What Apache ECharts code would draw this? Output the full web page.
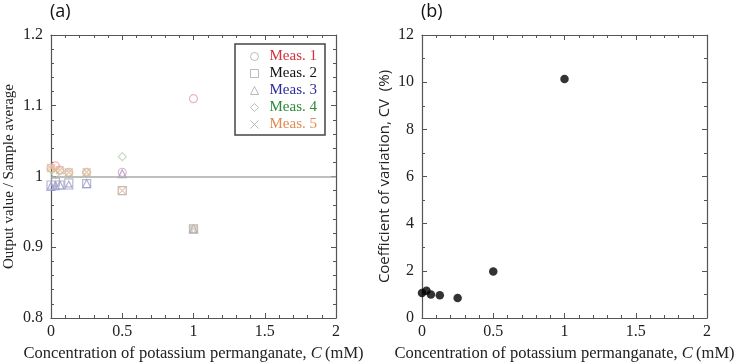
<!DOCTYPE html>
<html>
<head>
<meta charset="utf-8">
<script src="https://cdn.jsdelivr.net/npm/echarts@6/dist/echarts.min.js"></script>
<style>
  html, body { margin: 0; padding: 0; background: #fff; }
  #main { width: 735px; height: 362px; }
</style>
</head>
<body>
<div id="main"></div>
<script>
// concentrations (mM)
const conc = [0, 0.03125, 0.0625, 0.125, 0.25, 0.5, 1];

// output value / sample average, per measurement
const meas1 = [1.012, 1.015, 1.009, 1.006, 1.006, 1.006, 1.110];
const meas2 = [0.988, 0.992, 0.988, 0.991, 0.990, 0.980, 0.926];
const meas3 = [0.986, 0.987, 0.988, 0.988, 0.990, 1.004, 0.926];
const meas4 = [1.010, 1.003, 1.008, 1.005, 1.006, 1.028, 0.926];
const meas5 = [1.012, 1.010, 1.009, 1.006, 1.006, 0.980, 0.926];

// coefficient of variation (%)
const cv = [1.06, 1.16, 1.0, 0.96, 0.85, 1.97, 10.13];

const measNames = ['Meas. 1', 'Meas. 2', 'Meas. 3', 'Meas. 4', 'Meas. 5'];
const measData = [meas1, meas2, meas3, meas4, meas5];
const markerColors = ['#e6a4aa', '#a8a8b4', '#9a9ad8', '#b6cfb6', '#eeb888'];
const textColors = ['#d8303c', '#111111', '#2c2ca0', '#2a8a3a', '#e08a50'];
const symbols = ['circle', 'rect', 'triangle', 'diamond', 'path://M0,0L10,10M10,0L0,10'];

const serif = '"Liberation Serif", "DejaVu Serif", serif';
const sans = '"Open Sans", "Liberation Sans", sans-serif';
const axisColor = '#555';

const chart = echarts.init(document.getElementById('main'));

function xAxisFor(gridIndex) {
  return [
    {
      gridIndex, type: 'value', min: 0, max: 2, interval: 0.5,
      axisLine: { show: true, onZero: false, lineStyle: { color: axisColor, width: 1.2 } },
      axisTick: { inside: true, length: 5, lineStyle: { color: axisColor } },
      minorTick: { show: true, splitNumber: 5, length: 3, lineStyle: { color: axisColor } },
      splitLine: { show: false },
      axisLabel: { color: '#222', fontFamily: serif, fontSize: 16, margin: 6 },
      name: 'Concentration of potassium permanganate, {i|C}\u2009(mM)',
      nameLocation: 'middle', nameGap: 26,
      nameTextStyle: {
        color: '#222', fontFamily: serif, fontSize: 16.5,
        rich: { i: { fontStyle: 'italic', fontFamily: serif, fontSize: 16.5, color: '#222' } }
      }
    },
    {
      gridIndex, type: 'value', min: 0, max: 2, interval: 0.5, position: 'top',
      axisLine: { show: true, onZero: false, lineStyle: { color: axisColor, width: 1.2 } },
      axisTick: { inside: true, length: 5, lineStyle: { color: axisColor } },
      minorTick: { show: true, splitNumber: 5, length: 3, lineStyle: { color: axisColor } },
      splitLine: { show: false }, axisLabel: { show: false }
    }
  ];
}

function yAxisFor(gridIndex, min, max, interval, minorSplit, name, nameFont, nameSize, nameGap) {
  return [
    {
      gridIndex, type: 'value', min, max, interval,
      axisLine: { show: true, onZero: false, lineStyle: { color: axisColor, width: 1.2 } },
      axisTick: { inside: true, length: 5, lineStyle: { color: axisColor } },
      minorTick: { show: true, splitNumber: minorSplit, length: 3, lineStyle: { color: axisColor } },
      splitLine: { show: false },
      axisLabel: { color: '#222', fontFamily: serif, fontSize: 16, margin: 8 },
      name, nameLocation: 'middle', nameGap,
      nameTextStyle: { color: '#222', fontFamily: nameFont, fontSize: nameSize }
    },
    {
      gridIndex, type: 'value', min, max, interval, position: 'right',
      axisLine: { show: true, onZero: false, lineStyle: { color: axisColor, width: 1.2 } },
      axisTick: { inside: true, length: 5, lineStyle: { color: axisColor } },
      minorTick: { show: true, splitNumber: minorSplit, length: 3, lineStyle: { color: axisColor } },
      splitLine: { show: false }, axisLabel: { show: false }
    }
  ];
}

const measSeries = measData.map((vals, i) => ({
  name: measNames[i],
  type: 'scatter',
  xAxisIndex: 0, yAxisIndex: 0,
  symbol: symbols[i],
  symbolSize: 8,
  data: conc.map((c, k) => [c, vals[k]]),
  itemStyle: { color: 'rgba(255,255,255,0)', borderColor: markerColors[i], borderWidth: 1.2 },
  z: 3,
  markLine: i === 0 ? {
    silent: true, symbol: 'none', label: { show: false },
    lineStyle: { color: '#aaa', width: 1.5, type: 'solid' },
    data: [{ yAxis: 1 }]
  } : undefined
}));

const option = {
  backgroundColor: '#fff',
  animation: false,
  grid: [
    { left: 51, top: 35, width: 285, height: 283, containLabel: false, outerBoundsMode: 'none' },
    { left: 422, top: 35, width: 285, height: 283, containLabel: false, outerBoundsMode: 'none' }
  ],
  xAxis: [...xAxisFor(0), ...xAxisFor(1)],
  yAxis: [
    ...yAxisFor(0, 0.8, 1.2, 0.1, 5, 'Output value / Sample average', serif, 15, 34),
    ...yAxisFor(1, 0, 12, 2, 2, 'Coefficient of variation, CV  (%)', sans, 15, 30)
  ],
  legend: {
    orient: 'vertical',
    left: 235, top: 44,
    width: 90,
    padding: [5, 8, 3, 15],
    itemGap: 2,
    itemWidth: 8, itemHeight: 8,
    borderColor: '#444', borderWidth: 1.5,
    backgroundColor: '#fff',
    data: measNames.map((n, i) => ({
      name: n,
      icon: symbols[i],
      itemStyle: { color: 'rgba(255,255,255,0)', borderColor: '#aaa', borderWidth: 1 },
      textStyle: { color: textColors[i], fontFamily: serif, fontSize: 15, padding: [0, 0, 0, 6] }
    }))
  },
  graphic: [
    { type: 'text', left: 50, top: 3, style: { text: '(a)', font: '18px ' + sans, fill: '#111' } },
    { type: 'text', left: 421, top: 3, style: { text: '(b)', font: '18px ' + sans, fill: '#111' } }
  ],
  series: [
    ...measSeries,
    {
      name: 'CV',
      type: 'scatter',
      xAxisIndex: 2, yAxisIndex: 2,
      symbol: 'circle', symbolSize: 8.5,
      data: conc.map((c, k) => [c, cv[k]]),
      itemStyle: { color: '#000' }
    }
  ]
};

chart.setOption(option);
</script>
</body>
</html>
